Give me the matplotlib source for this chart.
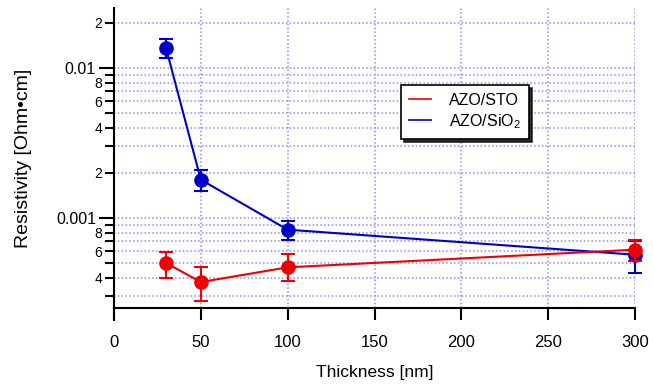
import matplotlib
matplotlib.use("Agg")
import matplotlib.pyplot as plt
from matplotlib.ticker import LogLocator, FuncFormatter
from matplotlib.lines import Line2D
import numpy as np

plt.rcParams['font.family'] = ['Liberation Sans', 'DejaVu Sans']
plt.rcParams['mathtext.fontset'] = 'custom'
plt.rcParams['mathtext.rm'] = 'Liberation Sans'
plt.rcParams['mathtext.it'] = 'Liberation Sans'

# thickness in nm
thickness = [30, 50, 100, 300]

# AZO/STO resistivity (Ohm cm) with error bar ends
sto_val = [5.01e-4, 3.74e-4, 4.69e-4, 6.15e-4]
sto_hi = [5.90e-4, 4.69e-4, 5.75e-4, 7.18e-4]
sto_lo = [3.98e-4, 2.78e-4, 3.78e-4, 5.19e-4]

# AZO/SiO2
sio_val = [1.353e-2, 1.80e-3, 8.36e-4, 5.69e-4]
sio_hi = [1.553e-2, 2.10e-3, 9.49e-4, 6.99e-4]
sio_lo = [1.171e-2, 1.52e-3, 7.17e-4, 4.31e-4]

red = '#f00000'
blue = '#0000c8'
grid_col = '#8c8cf0'

fig = plt.figure(figsize=(6.53, 3.84), dpi=100)
ax = fig.add_axes([114/653, 1 - 308/384, 521/653, 300/384])

ax.set_yscale('log')
ax.set_xlim(0, 300)
ax.set_ylim(10**-3.6, 10**-1.6)

# dotted grid lines
ax.set_xticks([0, 50, 100, 150, 200, 250, 300])
ax.yaxis.set_major_locator(LogLocator(base=10))
ax.yaxis.set_minor_locator(LogLocator(base=10, subs=np.arange(2, 10)))
for xv in [50, 100, 150, 200, 250, 300]:
    ax.axvline(xv, color=grid_col, ls=(0, (1, 1.5)), lw=1.1, zorder=0)
ax.grid(True, which='both', axis='y', color=grid_col, ls=(0, (1, 1.5)), lw=1.1, zorder=0)

def err_bars(val, lo, hi):
    return [np.array(val) - np.array(lo), np.array(hi) - np.array(val)]

for vals, lo, hi, col, z in [(sio_val, sio_lo, sio_hi, blue, 3),
                             (sto_val, sto_lo, sto_hi, red, 4)]:
    eb = ax.errorbar(thickness, vals, yerr=err_bars(vals, lo, hi), color=col,
                     marker='o', ms=9.5, lw=1.5, capsize=5, capthick=1.5,
                     elinewidth=1.5, zorder=z)
    for art in eb.get_children():
        art.set_clip_on(False)

# ticks
def major_fmt(v, pos):
    e = int(round(np.log10(v)))
    return ('%.*f' % (-e, v)) if e < 0 else '%g' % v

def minor_fmt(v, pos):
    m = v / 10 ** np.floor(np.log10(v) + 1e-9)
    d = int(round(m))
    return str(d) if d in (2, 4, 6, 8) else ''

ax.yaxis.set_major_formatter(FuncFormatter(major_fmt))
ax.yaxis.set_minor_formatter(FuncFormatter(minor_fmt))
ax.tick_params(axis='y', which='major', direction='out', length=11, width=1.5, labelsize=11.5, pad=2)
ax.tick_params(axis='y', which='minor', direction='out', length=6.5, width=1.5, labelsize=10, pad=2)
ax.tick_params(axis='x', which='major', direction='out', length=8.5, width=1.5, labelsize=12, pad=11)
ax.tick_params(axis='x', which='minor', length=0)

for s in ['top', 'right']:
    ax.spines[s].set_visible(False)
for s in ['left', 'bottom']:
    ax.spines[s].set_linewidth(1.5)

# left axis goes on a bit below the x axis
ax.add_line(Line2D([0, 0], [0, -12/300], transform=ax.transAxes, color='black',
                   lw=1.5, clip_on=False))

ax.set_xlabel('Thickness [nm]', fontsize=12.5)
ax.xaxis.set_label_coords(0.5, -0.19)
ax.set_ylabel('Resistivity [Ohm\u2022cm]', fontsize=14)
ax.yaxis.set_label_coords(-0.158, 0.5)

handles = [Line2D([], [], color=red, lw=1.2), Line2D([], [], color=blue, lw=1.2)]
leg = ax.legend(handles, ['AZO/STO', 'AZO/SiO$_2$'], loc='upper left',
                bbox_to_anchor=(0.551, 0.743), borderaxespad=0, fontsize=11.5,
                fancybox=False, shadow={'color': 'black', 'alpha': 0.8}, framealpha=1,
                edgecolor='black', handlelength=1.4, labelspacing=0.25,
                borderpad=0.5, handletextpad=1.1)
leg.get_frame().set_linewidth(1.2)

fig.savefig('out.png', dpi=100)
